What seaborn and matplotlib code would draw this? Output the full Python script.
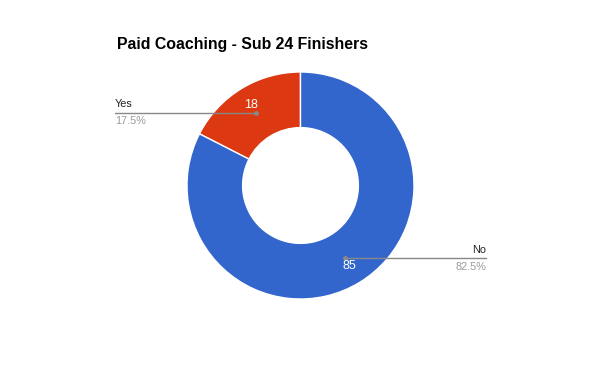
import numpy as np
import matplotlib
matplotlib.use("Agg")
import matplotlib.pyplot as plt
import seaborn as sns

# data
labels = ["Yes", "No"]
counts = [18, 85]
colors = ["#dc3912", "#3366cc"]
title = "Paid Coaching - Sub 24 Finishers"

sns.set_theme(style="white")
plt.rcParams["font.family"] = ["Liberation Sans", "DejaVu Sans"]

W, H = 600, 371
fig = plt.figure(figsize=(W / 100, H / 100), dpi=100)
fig.patch.set_facecolor("white")

# pie area in pixels: centre (300.5, 185.5), radius 113.5
cx, cy, R = 300.5, 185.5, 113.5
ax = fig.add_axes([(cx - R) / W, (H - cy - R) / H, 2 * R / W, 2 * R / H])

wedges, _, autotexts = ax.pie(
    counts, colors=colors, startangle=90, counterclock=True, radius=1,
    autopct=lambda p: f"{p * sum(counts) / 100:.0f}", pctdistance=0.83,
    wedgeprops=dict(width=0.49, edgecolor="white", linewidth=1),
    textprops=dict(color="white", fontsize=9),
)
ax.set_xlim(-1, 1)
ax.set_ylim(-1, 1)
ax.axis("off")

total = sum(counts)
line_x = 185.5 / R
for w, lab, c in zip(wedges, labels, counts):
    mid = np.deg2rad((w.theta1 + w.theta2) / 2)
    px, py = 0.75 * np.cos(mid), 0.75 * np.sin(mid)
    side = -1 if px < 0 else 1
    ex = side * line_x
    ax.plot([px, ex], [py, py], color="#888888", lw=1, clip_on=False)
    ax.plot([px], [py], "o", color="#888888", ms=2.5, clip_on=False)
    ha = "left" if side < 0 else "right"
    ax.text(ex, py + 0.03, lab, ha=ha, va="bottom", fontsize=7.8,
            color="#222222", clip_on=False)
    ax.text(ex, py - 0.03, f"{c / total * 100:.1f}%", ha=ha, va="top",
            fontsize=7.8, color="#999999", clip_on=False)

fig.text(117 / W, 1 - 45 / H, title, ha="left", va="center",
         fontsize=11.4, fontweight="bold", color="#000000")

fig.savefig("out.png", dpi=100)
